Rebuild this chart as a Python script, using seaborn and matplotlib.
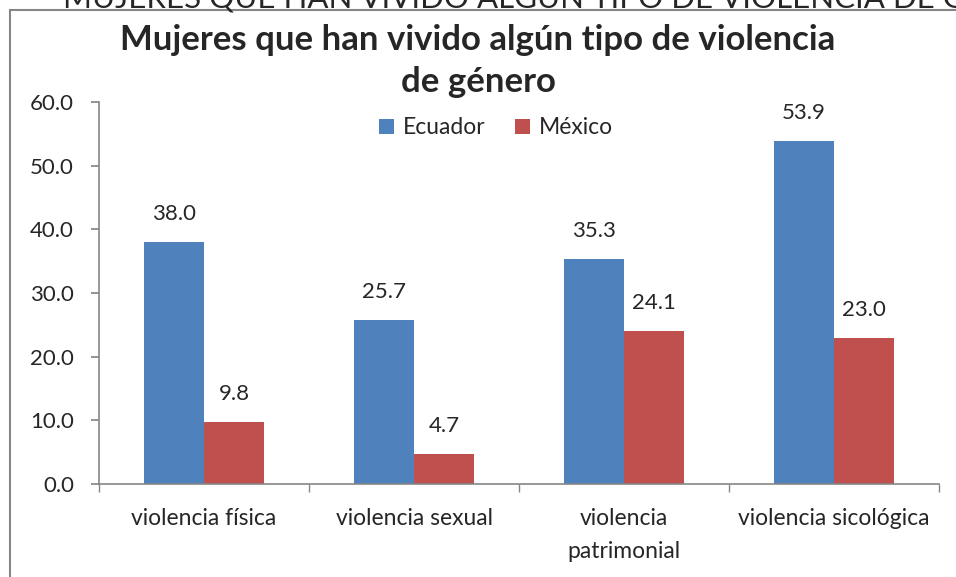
import pandas as pd
import matplotlib.pyplot as plt
import matplotlib.patches as mpatches
import seaborn as sns

categories = ['violencia física', 'violencia sexual', 'violencia\npatrimonial', 'violencia sicológica']
ecuador = [38.0, 25.7, 35.3, 53.9]
mexico = [9.8, 4.7, 24.1, 23.0]
series_names = ['Ecuador', 'México']
colors = ['#4F81BD', '#C0504D']
y_ticks = [0, 10, 20, 30, 40, 50, 60]

df = pd.DataFrame({
    'categoria': categories * 2,
    'valor': ecuador + mexico,
    'pais': [series_names[0]] * 4 + [series_names[1]] * 4,
})

sns.set_theme(style='white')
plt.rcParams['font.family'] = ['Lato', 'DejaVu Sans']

fig = plt.figure(figsize=(9.56, 5.77), dpi=100)
ax = fig.add_axes([99 / 956, 1 - 484 / 577, (939 - 99) / 956, (484 - 102) / 577])

sns.barplot(data=df, x='categoria', y='valor', hue='pais', palette=colors,
            width=0.571, saturation=1, errorbar=None, ax=ax, linewidth=0)

for container in ax.containers:
    ax.bar_label(container, fmt='%.1f', padding=13, fontsize=16)

ax.set_ylim(0, 60)
ax.set_xlim(-0.5, 3.5)
ax.set_yticks(y_ticks)
ax.set_yticklabels([f'{v:.1f}' for v in y_ticks], fontsize=16)
ax.set_xticks(range(4))
ax.set_xticklabels(categories, fontsize=16.5, linespacing=1.75)
ax.set_xticks([-0.5, 0.5, 1.5, 2.5, 3.5], minor=True)
ax.tick_params(axis='x', which='major', length=0, pad=17)
ax.tick_params(axis='x', which='minor', length=6, color='#868686', direction='out', bottom=True)
ax.tick_params(axis='y', length=6, color='#868686', direction='out', left=True, pad=12)
ax.set_xlabel('')
ax.set_ylabel('')
for s in ['top', 'right']:
    ax.spines[s].set_visible(False)
for s in ['left', 'bottom']:
    ax.spines[s].set_color('#868686')
    ax.spines[s].set_linewidth(1.2)

ax.legend(loc='center', bbox_to_anchor=(496 / 956, 1 - 128 / 577), bbox_transform=fig.transFigure,
          ncol=2, frameon=False, fontsize=16.5, handlelength=0.65, handleheight=0.65,
          columnspacing=1.3, handletextpad=0.4, borderpad=0)

fig.text(478 / 956, 1 - 40 / 577, 'Mujeres que han vivido algún tipo de violencia',
         ha='center', va='center', fontsize=25, fontweight='bold')
fig.text(478 / 956, 1 - 82 / 577, 'de género',
         ha='center', va='center', fontsize=25, fontweight='bold')

# texto recortado arriba
fig.text(63 / 956, 1 - 7 / 577, 'MUJERES QUE HAN VIVIDO ALGÚN TIPO DE VIOLENCIA DE GÉNERO',
         ha='left', va='baseline', fontsize=22.5)

fig.patches.append(mpatches.Rectangle((10 / 956, -0.1), 1.2, 1.1 - 10 / 577,
                                      transform=fig.transFigure, fill=False,
                                      edgecolor='#868686', linewidth=1.5))

fig.savefig('out.png', dpi=100)
